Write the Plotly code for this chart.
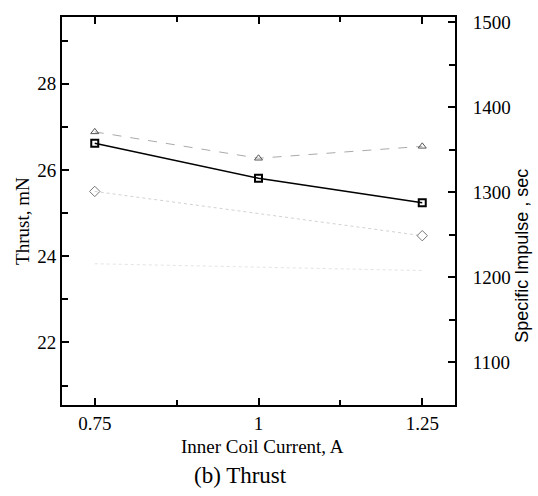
import plotly.graph_objects as go

current = [0.75, 1.0, 1.25]
thrust_sq = [26.62, 25.81, 25.24]          # left axis, mN
isp_tri = [1371, 1340, 1354]               # right axis, sec
isp_dia_x = [0.75, 1.25]
isp_dia = [1301, 1249]
faint_x = [0.75, 1.25]
faint_y = [1216, 1208]

serif = "Liberation Serif, Times New Roman, serif"
sans = "Liberation Sans Narrow, Liberation Sans, Arial, sans-serif"

fig = go.Figure()
fig.add_trace(go.Scatter(x=faint_x, y=faint_y, yaxis="y2", mode="lines",
                         line=dict(color="#e4e4e4", width=1, dash="dot"), showlegend=False))
fig.add_trace(go.Scatter(x=isp_dia_x, y=isp_dia, yaxis="y2", mode="lines+markers",
                         line=dict(color="#d2d2d2", width=1, dash="dot"),
                         marker=dict(symbol="diamond-open", size=8, color="#777777", line=dict(width=1)),
                         showlegend=False))
fig.add_trace(go.Scatter(x=current, y=isp_tri, yaxis="y2", mode="lines+markers",
                         line=dict(color="#aaaaaa", width=1, dash="dash"),
                         marker=dict(symbol="triangle-up-open", size=7, color="#555555", line=dict(width=1)),
                         showlegend=False))
fig.add_trace(go.Scatter(x=current, y=thrust_sq, mode="lines+markers",
                         line=dict(color="black", width=1.5),
                         marker=dict(symbol="square-open", size=7, color="black", line=dict(width=2)),
                         showlegend=False))

tf = dict(family=serif, size=19, color="black")
fig.update_layout(
    width=538, height=496,
    margin=dict(l=62, r=83, t=15, b=91),
    paper_bgcolor="white", plot_bgcolor="white",
    font=dict(family=serif, color="black", size=16),
    xaxis=dict(range=[0.7, 1.3], tickvals=[0.75, 1.0, 1.25], ticktext=["0.75", "1", "1.25"],
               ticks="inside", ticklen=7, tickwidth=1.5, tickcolor="black",
               minor=dict(tickvals=[0.875, 1.125], ticks="inside", ticklen=5, tickcolor="black", tickwidth=1.5),
               showline=True, linewidth=2, linecolor="black", mirror="ticks",
               showgrid=False, zeroline=False, tickfont=tf),
    yaxis=dict(range=[20.55, 29.55], tickvals=[22, 24, 26, 28],
               ticks="inside", ticklen=7, tickwidth=1.5, tickcolor="black",
               minor=dict(tickvals=[21, 23, 25, 27, 29], ticks="inside", ticklen=6, tickcolor="black", tickwidth=1.5),
               showline=True, linewidth=2, linecolor="black",
               showgrid=False, zeroline=False, tickfont=tf),
    yaxis2=dict(range=[1050, 1506], overlaying="y", side="right",
                tickvals=[1100, 1200, 1300, 1400, 1500],
                ticks="inside", ticklen=7, tickwidth=1.5, tickcolor="black",
                minor=dict(tickvals=[1150, 1250, 1350, 1450], ticks="inside", ticklen=6, tickcolor="black", tickwidth=1.5),
                showline=True, linewidth=2, linecolor="black", ticklabelstandoff=12,
                showgrid=False, zeroline=False, tickfont=tf),
    annotations=[
        dict(text="Thrust, mN", x=23, y=220, showarrow=False,
             textangle=-90, font=dict(family=serif, size=19)),
        dict(text="Specific Impulse , sec", x=522, y=255, showarrow=False,
             textangle=-90, font=dict(family=sans, size=18)),
        dict(text="Inner Coil Current, A", x=262, y=447, showarrow=False,
             font=dict(family=serif, size=19)),
        dict(text="(b) Thrust", x=240, y=476, showarrow=False,
             font=dict(family=serif, size=23)),
    ],
)

# convert pixel positions of annotations to paper coords
W, H = 538, 496
l, r, t, b = 62, 83, 15, 91
pw, ph = W - l - r, H - t - b
new = []
for a in fig.layout.annotations:
    a = a.to_plotly_json()
    px, py = a["x"], a["y"]
    a["xref"] = "paper"; a["yref"] = "paper"
    a["x"] = (px - l) / pw
    a["y"] = 1 - (py - t) / ph
    a["xanchor"] = "center"; a["yanchor"] = "middle"
    new.append(a)
fig.layout.annotations = new

fig.write_html("out.html")
